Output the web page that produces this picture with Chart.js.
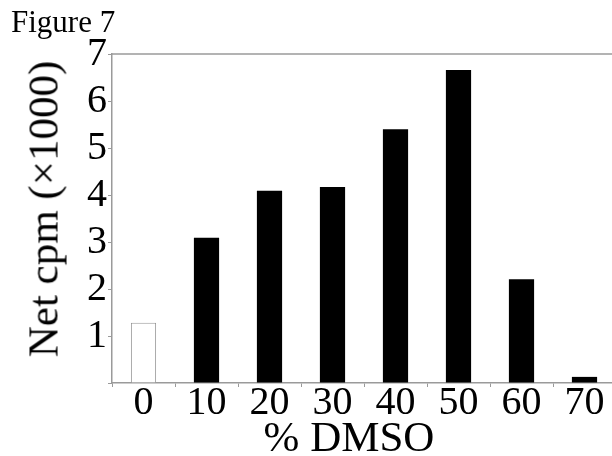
<!DOCTYPE html>
<html>
<head>
<meta charset="utf-8">
<script src="https://cdn.jsdelivr.net/npm/chart.js@4/dist/chart.umd.min.js"></script>
<style>
  html, body { margin: 0; padding: 0; background: #fff; overflow: hidden; }
  #wrap { position: relative; width: 616px; height: 456px; }
  .lbl { position: absolute; font-family: "Liberation Serif", serif; color: #000; line-height: 1; white-space: nowrap; }
  #fig { left: 11px; top: 6px; font-size: 31px; }
  #xTitle { left: 349px; top: 415px; font-size: 43px; transform: translateX(-50%); }
  #yTitle { left: 43px; top: 209px; font-size: 43px; transform: translate(-50%, -50%) rotate(-90deg); }
</style>
</head>
<body>
<div id="wrap">
  <canvas id="dmsoChart" width="616" height="456"></canvas>
  <div class="lbl" id="fig">Figure 7</div>
  <div class="lbl" id="xTitle">% DMSO</div>
  <div class="lbl" id="yTitle">Net cpm (&times;1000)</div>
</div>
<script>
// % DMSO categories and net cpm (x1000)
const dmsoLabels = ['0', '10', '20', '30', '40', '50', '60', '70'];
const netCpm = [1.28, 3.09, 4.09, 4.17, 5.40, 6.66, 2.21, 0.13];
const yTicks = [1, 2, 3, 4, 5, 6, 7];

const serif = 'Liberation Serif';

// draws the top frame line of the plot area
const topLine = {
    id: 'topLine',
    afterDraw(chart) {
        const a = chart.chartArea;
        const c = chart.ctx;
        c.save();
        c.strokeStyle = '#9a9a9a';
        c.lineWidth = 1.5;
        c.beginPath();
        c.moveTo(a.left, a.top);
        c.lineTo(a.right, a.top);
        c.stroke();
        c.restore();
    }
};

const ctx = document.getElementById('dmsoChart').getContext('2d');

new Chart(ctx, {
    type: 'bar',
    data: {
        labels: dmsoLabels,
        datasets: [{
            data: netCpm,
            // control (0 %) is an open bar, the rest are solid
            backgroundColor: netCpm.map((v, i) => i === 0 ? '#ffffff' : '#000000'),
            borderColor: netCpm.map((v, i) => i === 0 ? '#999999' : '#000000'),
            borderWidth: netCpm.map((v, i) => i === 0 ? 1 : 0),
            barPercentage: 0.8,
            categoryPercentage: 0.5
        }]
    },
    options: {
        responsive: false,
        animation: false,
        layout: { padding: { top: 54, left: 0, right: 0, bottom: 0 } },
        plugins: {
            legend: { display: false },
            tooltip: { enabled: false }
        },
        scales: {
            x: {
                offset: true,
                afterFit(axis) { axis.height = 73; },
                grid: {
                    offset: true,
                    drawOnChartArea: false,
                    drawTicks: true,
                    tickLength: 4,
                    color: '#9a9a9a'
                },
                border: { color: '#9a9a9a', width: 1.5 },
                ticks: {
                    color: '#000',
                    padding: -4,
                    maxRotation: 0,
                    autoSkip: false,
                    font: { family: serif, size: 40, lineHeight: 1 }
                }
            },
            y: {
                min: 0,
                max: 7,
                afterFit(axis) { axis.width = 112; },
                afterBuildTicks(axis) {
                    axis.ticks = [{ value: 0 }].concat(yTicks.map(v => ({ value: v })));
                },
                grid: {
                    drawOnChartArea: false,
                    drawTicks: true,
                    tickLength: 4,
                    color: '#9a9a9a'
                },
                border: { color: '#9a9a9a', width: 1.5 },
                ticks: {
                    color: '#000',
                    padding: 1,
                    autoSkip: false,
                    font: { family: serif, size: 40 },
                    callback: v => v === 0 ? '' : String(v)
                }
            }
        }
    },
    plugins: [topLine]
});
</script>
</body>
</html>
